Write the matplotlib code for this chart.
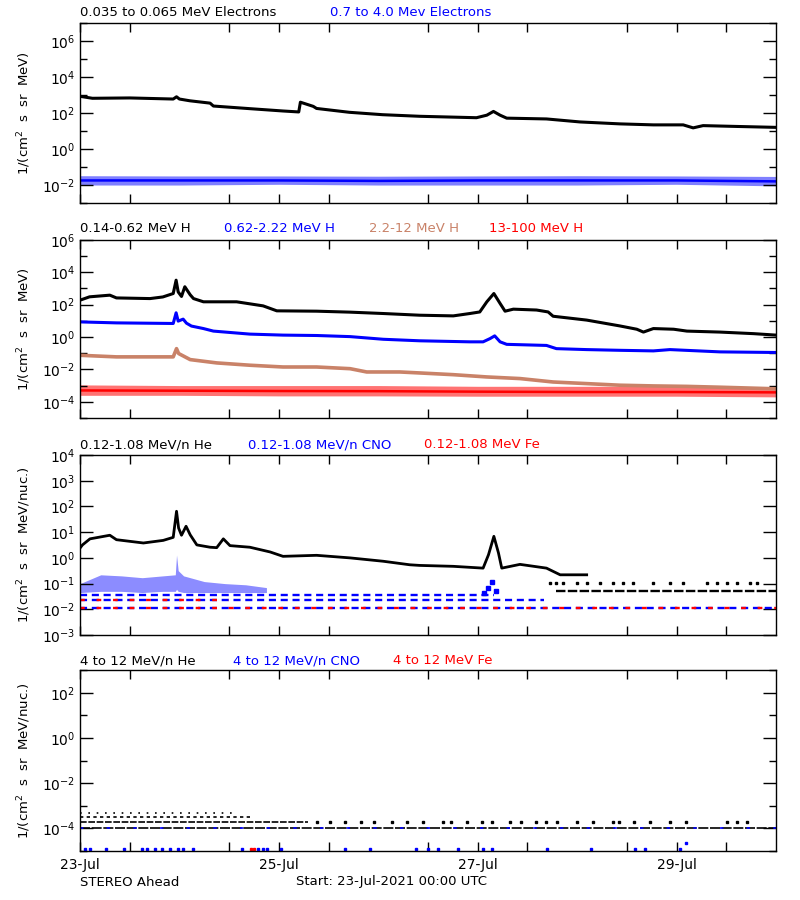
import numpy as np
import matplotlib
matplotlib.use("Agg")
import matplotlib.pyplot as plt
from matplotlib.ticker import FixedLocator, NullFormatter, LogFormatterMathtext

plt.rcParams['font.family'] = ['DejaVu Sans']

# time axis: hours after 23-Jul-2021 00:00 UTC
day_ticks = [0, 48, 96, 144]
day_labels = ['23-Jul', '25-Jul', '27-Jul', '29-Jul']

BROWN = '#c98268'

# ---- panel 1 : electrons ----
e_low_t = [0, 3, 12, 22.5, 23.3, 24, 26.5, 31.4, 32.2, 41, 49, 52.8, 53.2, 56.3, 57.1,
           65, 73, 82, 95.7, 98.2, 99.8, 101.4, 103, 112.6, 120.7, 130.3, 138.4, 145.6,
           148, 150.4, 158.5, 168]
e_low = [850, 660, 690, 600, 800, 600, 480, 355, 245, 175, 130, 115, 400, 235, 180,
         110, 81, 66, 55, 76, 123, 76, 52, 47, 32, 25, 22, 22, 15, 20, 18, 16]

e_high_t = [0, 24, 48, 72, 96, 120, 144, 168]
e_high_mid = [0.018, 0.018, 0.018, 0.017, 0.018, 0.018, 0.018, 0.016]
e_high_hi = [0.033, 0.032, 0.032, 0.031, 0.032, 0.033, 0.032, 0.030]
e_high_lo = [0.010, 0.010, 0.011, 0.010, 0.010, 0.010, 0.011, 0.009]

# ---- panel 2 : protons ----
h1_t = [0, 2.3, 7.2, 8.8, 16.9, 20, 22.5, 23.2, 23.7, 24.5, 25.3, 26.6, 27.4, 29.8, 37.8,
        44.2, 47.5, 57.1, 65.2, 73.2, 82, 90.1, 94.1, 96.5, 98.2, 99.9, 101.4, 102.6,
        104.6, 110.2, 113, 114.2, 122.3, 130.3, 134.4, 136, 138.4, 143.3, 146.5, 154.5,
        162.6, 168]
h1 = [186, 300, 380, 257, 234, 295, 480, 3200, 600, 316, 1260, 400, 234, 148, 148,
      83, 41, 39, 34, 28, 22, 20, 28, 35, 148, 480, 117, 39,
      52, 46, 35, 19, 11, 4.8, 3.0, 2.0, 3.3, 3.0, 2.3, 2.0,
      1.6, 1.3]

h2_t = [0, 8.8, 22.5, 23.2, 23.7, 24.9, 25.7, 26.9, 29.8, 32.2, 41, 49, 57.1, 65.2, 73.2,
        82, 94.1, 97.3, 99, 100.1, 101.4, 103, 112.6, 115, 122.3, 130.3, 138.4, 142.4,
        154.5, 168]
h2 = [8.5, 7.4, 6.8, 31, 9.5, 12.6, 7.1, 4.7, 3.3, 2.3, 1.5, 1.3, 1.23, 1.05, 0.72,
      0.58, 0.5, 0.5, 0.8, 1.17, 0.5, 0.35, 0.30, 0.19, 0.166, 0.15, 0.138, 0.166,
      0.12, 0.11]

h3_t = [0, 8.8, 22.5, 23.3, 23.8, 26.6, 33, 41, 49, 57.1, 65.2, 69.2, 77.2, 82, 90.1,
        98.2, 106.2, 114.2, 122.3, 130.3, 138.4, 146.5, 154.5, 168]
h3 = [0.074, 0.059, 0.059, 0.19, 0.095, 0.040, 0.025, 0.018, 0.014, 0.014, 0.011,
      0.0069, 0.0069, 0.0060, 0.0047, 0.0034, 0.0027, 0.00166, 0.00132, 0.00105,
      0.00095, 0.00089, 0.00079, 0.00063]

h4_t = [0, 24, 48, 72, 96, 120, 144, 168]
h4_mid = [5e-4, 4.8e-4, 4.6e-4, 4.5e-4, 4.2e-4, 4.0e-4, 4.0e-4, 3.8e-4]
h4_hi = [1.1e-3, 1.0e-3, 1.0e-3, 1.0e-3, 9e-4, 9e-4, 9e-4, 8.5e-4]
h4_lo = [2.5e-4, 2.5e-4, 2.3e-4, 2.3e-4, 2.2e-4, 2.2e-4, 2.2e-4, 2.0e-4]

# ---- panel 3 : low energy ions ----
he_t = [0, 0.6, 2.4, 7.2, 8.8, 15.3, 20.1, 22.5, 23.3, 23.8, 24.5, 25.6, 26.6, 28.2,
        31.4, 33, 34.6, 36.2, 41, 45.9, 49, 57.1, 65.2, 73.2, 79.6, 82, 90.1, 97.3,
        98.6, 99.9, 101, 101.8, 106.2, 112.6, 115.9, 122.3]
he = [2.4, 3.2, 5.5, 7.6, 5.1, 3.8, 4.8, 6.3, 65, 14.5, 7.6, 17, 7.9, 3.2,
      2.6, 2.5, 5.5, 3.0, 2.6, 1.7, 1.15, 1.26, 1.0, 0.74, 0.54, 0.51, 0.47, 0.40,
      1.32, 6.9, 1.58, 0.40, 0.56, 0.40, 0.22, 0.22]
he_floor_t = [115, 168]
he_floor = [0.052, 0.052]
he_sparse_t = [113.4, 115, 116.7, 119.9, 122.3, 125.5, 128.7, 131.1, 133.6, 138.4,
               142.4, 145.6, 151.3, 153.7, 156.1, 158.5, 161.7, 163.3]
he_sparse = [0.105] * len(he_sparse_t)

cno_t = [0, 5, 10, 15, 20, 23, 23.3, 23.7, 25, 30, 35, 40, 45]
cno_hi = [0.10, 0.22, 0.20, 0.17, 0.20, 0.22, 1.3, 0.32, 0.20, 0.12, 0.10, 0.09, 0.07]
cno_lo = [0.045, 0.05, 0.05, 0.045, 0.05, 0.05, 0.06, 0.05, 0.045, 0.045, 0.045, 0.045, 0.045]
cno_peak_t = [97.5, 98.5, 99.5, 100.5]
cno_peak = [0.045, 0.07, 0.12, 0.05]
cno_rows = [0.037, 0.0234, 0.0112]
cno_row_end = [100, 112, 168]
fe_rows = [0.0234, 0.0112]
fe_row_end = [36, 168]

# ---- panel 4 : high energy ions ----
he4_rows = [4.8e-4, 3.1e-4, 2.0e-4, 1.0e-4]
he4_row_end = [38, 41, 55, 168]
he4_sparse_t = [57.2, 60.3, 64, 67.8, 70.9, 75.3, 79, 82.7, 87.7, 89.6, 93.3, 97, 99.5,
                103.9, 106.4, 110.1, 112.6, 115.1, 120, 123.8, 128.7, 130, 133.7, 137.5,
                142.4, 146.2, 156.1, 158.6, 161.1]
he4_sparse = [2.0e-4] * len(he4_sparse_t)
cno4_t = [1.2, 2.5, 6.2, 10.6, 14.9, 16.1, 18, 19.9, 21.7, 23.6, 24.9, 27.3, 39.2, 42.9,
          44.1, 45.1, 48.5, 64, 70, 81.2, 83.9, 86.4, 91.2, 97.3, 99.5, 112.8, 123.4,
          134, 136.5, 144.9, 146.2]
cno4 = [1.2e-5] * 30 + [2.2e-5]
fe4_t = [41.3, 42]
fe4 = [1.2e-5, 1.2e-5]

fig = plt.figure(figsize=(8, 9), dpi=100)
L, W = 0.10, 0.87
ax1 = fig.add_axes([L, 0.7744, W, 0.200])
ax2 = fig.add_axes([L, 0.5356, W, 0.198])
ax3 = fig.add_axes([L, 0.2944, W, 0.200])
ax4 = fig.add_axes([L, 0.0544, W, 0.201])


def style(ax, lo, hi, step):
    ax.set_yscale('log')
    ax.set_ylim(10.0 ** lo, 10.0 ** hi)
    ax.set_xlim(0, 168)
    exps = range(lo, hi + 1)
    major = [10.0 ** e for e in exps if e % step == 0]
    minor = [10.0 ** e for e in exps if e % step != 0]
    ax.yaxis.set_major_locator(FixedLocator(major))
    ax.yaxis.set_minor_locator(FixedLocator(minor))
    ax.yaxis.set_major_formatter(LogFormatterMathtext())
    ax.yaxis.set_minor_formatter(NullFormatter())
    ax.xaxis.set_major_locator(FixedLocator(day_ticks))
    ax.xaxis.set_minor_locator(FixedLocator(list(range(12, 168, 24))))
    ax.tick_params(which='both', direction='in', top=True, right=True, labelsize=10)
    ax.tick_params(axis='y', which='major', length=9.5, width=1)
    ax.tick_params(axis='y', which='minor', length=5, width=1)
    ax.tick_params(axis='x', which='both', length=6.5, width=1)
    ax.set_xticklabels([])
    for s in ax.spines.values():
        s.set_linewidth(1.0)


style(ax1, -3, 7, 2)
style(ax2, -5, 6, 2)
style(ax3, -3, 4, 1)
style(ax4, -5, 3, 2)

ax4.set_xticklabels(day_labels)
ax4.tick_params(axis='x', pad=5)

# panel 1
ax1.fill_between(e_high_t, e_high_lo, e_high_hi, color='blue', alpha=0.5, lw=0)
ax1.plot(e_high_t, e_high_mid, color='blue', lw=1.8)
ax1.plot(e_low_t, e_low, color='black', lw=2.2)

# panel 2
ax2.fill_between(h4_t, h4_lo, h4_hi, color='red', alpha=0.55, lw=0)
ax2.plot(h4_t, h4_mid, color='red', lw=1.8)
ax2.plot(h3_t, h3, color=BROWN, lw=2.6)
ax2.plot(h2_t, h2, color='blue', lw=2.2)
ax2.plot(h1_t, h1, color='black', lw=2.2)

# panel 3
for lev, end in zip(cno_rows, cno_row_end):
    ax3.plot([0, end], [lev, lev], color='blue', lw=1.7, ls=(0, (3, 2)))
for lev, end in zip(fe_rows, fe_row_end):
    ax3.plot([0, end], [lev, lev], color='red', lw=1.7, ls=(0, (2, 5)))
ax3.fill_between(cno_t, cno_lo, cno_hi, color='blue', alpha=0.45, lw=0)
ax3.plot(cno_peak_t, cno_peak, 's', color='blue', ms=2.2)
ax3.plot(he_floor_t, he_floor, color='black', lw=1.7, ls=(0, (4, 1)))
ax3.plot(he_sparse_t, he_sparse, 's', color='black', ms=1.8)
ax3.plot(he_t, he, color='black', lw=2)

# panel 4
he4_styles = [(0, (1, 4)), (0, (2, 2)), (0, (4, 1)), (0, (6, 1))]
for lev, end, ls in zip(he4_rows, he4_row_end, he4_styles):
    ax4.plot([0, end], [lev, lev], color='black', lw=1.2, ls=ls)
ax4.plot([0, 168], [1e-4, 1e-4], color='blue', lw=1.2, ls=(0, (2, 14)))
ax4.plot(he4_sparse_t, he4_sparse, 's', color='black', ms=1.6)
ax4.plot(cno4_t, cno4, 's', color='blue', ms=1.6)
ax4.plot(fe4_t, fe4, 's', color='red', ms=1.6)

# titles
fs = 9.5
titles = [
    (0.9856, [("0.035 to 0.065 MeV Electrons", 'black', 80),
              ("0.7 to 4.0 Mev Electrons", 'blue', 330)]),
    (0.7456, [("0.14-0.62 MeV H", 'black', 80), ("0.62-2.22 MeV H", 'blue', 224),
              ("2.2-12 MeV H", BROWN, 369), ("13-100 MeV H", 'red', 489)]),
    (0.5056, [("0.12-1.08 MeV/n He", 'black', 80), ("0.12-1.08 MeV/n CNO", 'blue', 248),
              ("0.12-1.08 MeV Fe", 'red', 424)]),
    (0.2656, [("4 to 12 MeV/n He", 'black', 80), ("4 to 12 MeV/n CNO", 'blue', 233),
              ("4 to 12 MeV Fe", 'red', 393)]),
]
for y, items in titles:
    for txt, col, xp in items:
        fig.text(xp / 800, y, txt, color=col, fontsize=fs, va='center', ha='left')

ylab1 = "1/(cm$^2$  s  sr  MeV)"
ylab2 = "1/(cm$^2$  s  sr  MeV/nuc.)"
for ax, lab in [(ax1, ylab1), (ax2, ylab1), (ax3, ylab2), (ax4, ylab2)]:
    ax.set_ylabel(lab, fontsize=fs)
    ax.yaxis.set_label_coords(-0.067, 0.5)

fig.text(80 / 800, 1 - 882 / 900, "STEREO Ahead", fontsize=fs, va='center', ha='left')
fig.text(296 / 800, 1 - 882 / 900, "Start: 23-Jul-2021 00:00 UTC", fontsize=fs,
         va='center', ha='left')

fig.savefig("out.png", dpi=100)
